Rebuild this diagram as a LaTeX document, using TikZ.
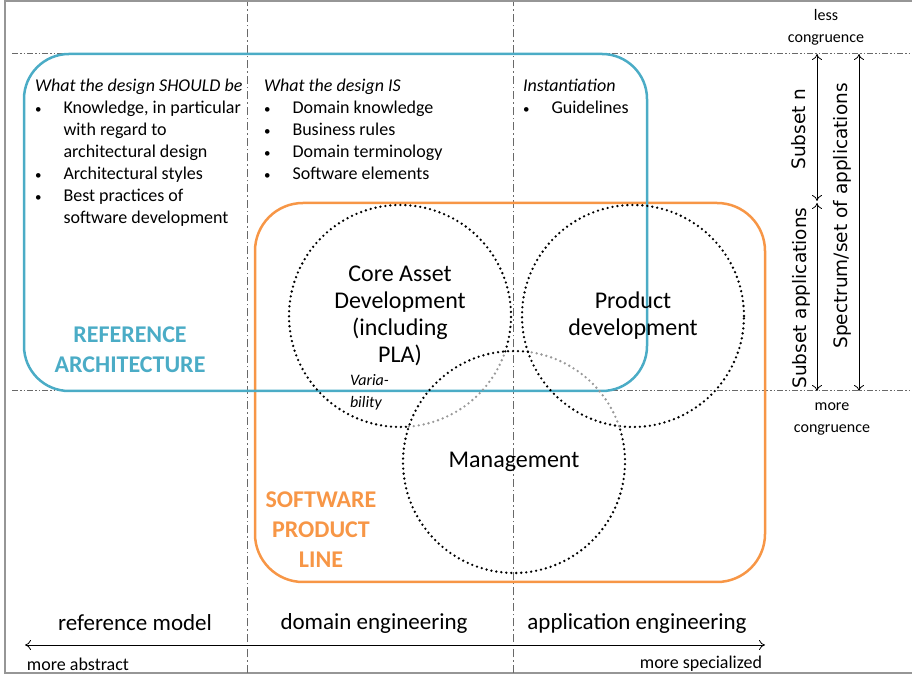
\documentclass[tikz,border=0pt]{standalone}
\usepackage{fontspec}
\setmainfont{Carlito}
\newfontfamily\vertfont{DejaVu Sans}
\usepackage{xcolor}
\usepackage{tikz}
\usetikzlibrary{arrows,arrows.meta,positioning,calc}

\definecolor{refblue}{RGB}{75,172,198}
\definecolor{splorange}{RGB}{247,150,70}
\definecolor{gridgray}{RGB}{105,105,105}
\definecolor{framegray}{RGB}{150,150,150}

\newcommand{\bul}{\makebox[28.5pt][l]{\fontsize{13}{13}\selectfont\textbullet}}
\newcommand{\nob}{\hspace*{28.5pt}}

\begin{document}
\begin{tikzpicture}[x=1pt, y=1pt,
        every node/.style={inner sep=0pt, outer sep=0pt},
        vline/.style={gridgray, line width=1pt, dash pattern=on 8pt off 3pt on 1.5pt off 3pt},
        hline/.style={gridgray, line width=1pt, dash pattern=on 6pt off 2pt on 1.5pt off 2pt on 1.5pt off 2pt},
        dots/.style={line width=2.6pt, dash pattern=on 0pt off 5pt, line cap=round},
        graydots/.style={dots, gray!80},
        axis/.style={line width=0.8pt, {To[length=6pt, width=10pt]}-{To[length=6pt, width=10pt]}},
        listtext/.style={anchor=north west, align=left, font=\fontsize{18}{22}\selectfont},
        areatext/.style={circle, minimum size=222pt, align=center, font=\fontsize{24}{27}\selectfont},
        bigtitle/.style={align=center, font=\fontsize{24}{30}\selectfont\bfseries},
        phase/.style={font=\fontsize{23}{27}\selectfont},
        small/.style={align=center, font=\fontsize{16}{22}\selectfont},
        vertlabel/.style={rotate=90, font=\vertfont\fontsize{18.5}{22}\selectfont}]
        \useasboundingbox (0,0) rectangle (912,676);

        % Frame and grid
        \draw[framegray, line width=2pt] (930,674.5) -- (5,674.5) -- (5,3) -- (930,3);
        \draw[vline] (247,3) -- (247,674);
        \draw[vline] (513,3) -- (513,674);
        \draw[hline] (12,622) -- (912,622);
        \draw[hline] (12,285) -- (912,285);

        % Areas
        \draw[splorange, line width=2.5pt, rounded corners=48pt] (255,94) rectangle (765,473);
        \draw[refblue, line width=2.5pt, rounded corners=45pt] (24,285) rectangle (647,622);

        % Lists
        \node[listtext] (should) at (35,597) {\textit{What the design SHOULD be}\\
            \bul Knowledge, in particular\\
            \nob with regard to\\
            \nob architectural design\\
            \bul Architectural styles\\
            \bul Best practices of\\
            \nob software development};
        \node[listtext] (is) at (264,597) {\textit{What the design IS}\\
            \bul Domain knowledge\\
            \bul Business rules\\
            \bul Domain terminology\\
            \bul Software elements};
        \node[listtext] (inst) at (523,597) {\textit{Instantiation}\\
            \bul Guidelines};

        % Circles
        \node[areatext] (core) at (400,360) {Core Asset\\Development\\(including\\PLA)};
        \node[areatext] (product) at (633,360) {Product\\development};
        \node[areatext] (mgmt) at (514,214) {Management};
        \draw[dots] ([shift={(-18.57:111)}]core.center) arc[start angle=-18.57, end angle=274.55, radius=111];
        \draw[graydots] ([shift={(-85.45:111)}]core.center) arc[start angle=-85.45, end angle=-18.57, radius=111];
        \draw[dots] (product.center) circle[radius=111];
        \draw[dots] ([shift={(82.76:111)}]mgmt.center) arc[start angle=82.76, end angle=378.86, radius=111];
        \draw[graydots] ([shift={(18.86:111)}]mgmt.center) arc[start angle=18.86, end angle=82.76, radius=111];
        \node[anchor=west, align=left, font=\fontsize{16}{22}\selectfont\itshape] (var) at (350,284) {Varia-\\bility};

        % Titles
        \node[bigtitle, text=refblue] (ra) at (130,326) {REFERENCE\\ARCHITECTURE};
        \node[bigtitle, text=splorange] (spl) at (321,146) {SOFTWARE\\PRODUCT\\LINE};

        % Phases and abstraction axis
        \node[phase] (refmodel) at (135,53) {reference model};
        \node[phase] (domeng) at (374,53) {domain engineering};
        \node[phase] (appeng) at (637,53) {application engineering};
        \coordinate (absend) at (25,31);
        \coordinate (specend) at (765,31);
        \draw[axis] (absend) -- (specend);
        \node[font=\fontsize{18}{20}\selectfont, anchor=west] (abstract) at (27,12) {more abstract};
        \node[font=\fontsize{18}{20}\selectfont, anchor=east] (special) at (762,12) {more specialized};

        % Congruence axis
        \node[small] (less) at (826,649) {less\\congruence};
        \node[small] (more) at (832,257) {more\\congruence};
        \coordinate (ntop) at (817,622);
        \coordinate (nmid) at (817,475);
        \coordinate (amid) at (817,473);
        \coordinate (abot) at (817,285);
        \coordinate (stop) at (859,622);
        \coordinate (sbot) at (859,285);
        \draw[axis] (ntop) -- (nmid);
        \draw[axis] (amid) -- (abot);
        \draw[axis] (stop) -- (sbot);
        \node[vertlabel] (subn) at (799,547) {Subset n};
        \node[vertlabel] (subapps) at (801,378) {Subset applications};
        \node[vertlabel] (spectrum) at (842,460) {Spectrum/set of applications};
    \end{tikzpicture}
\end{document}
